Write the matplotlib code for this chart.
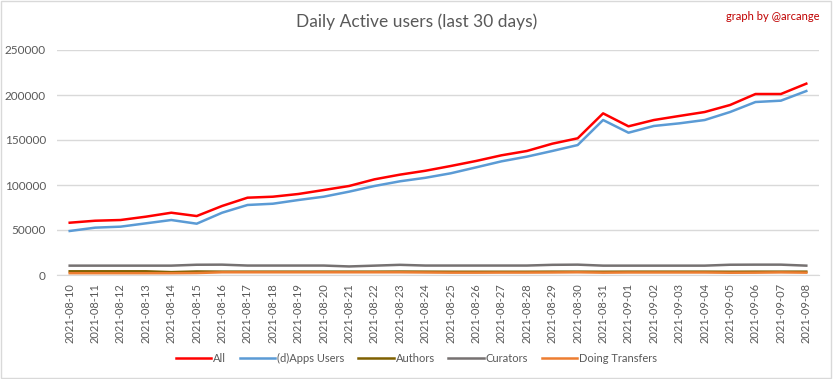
import matplotlib.pyplot as plt
import matplotlib.patches as patches

dates = ["2021-08-10", "2021-08-11", "2021-08-12", "2021-08-13", "2021-08-14", "2021-08-15",
         "2021-08-16", "2021-08-17", "2021-08-18", "2021-08-19", "2021-08-20", "2021-08-21",
         "2021-08-22", "2021-08-23", "2021-08-24", "2021-08-25", "2021-08-26", "2021-08-27",
         "2021-08-28", "2021-08-29", "2021-08-30", "2021-08-31", "2021-09-01", "2021-09-02",
         "2021-09-03", "2021-09-04", "2021-09-05", "2021-09-06", "2021-09-07", "2021-09-08"]

all_users = [58100, 60300, 61100, 64800, 69200, 65500, 76700, 85900, 87000, 90000,
             94400, 98900, 106300, 111500, 115800, 121100, 126700, 133000, 137800, 145900,
             151900, 179600, 165200, 172200, 176700, 181100, 188900, 201100, 201100, 212600]
dapps_users = [48900, 52600, 53700, 57400, 61100, 57000, 69200, 77800, 79200, 83300,
               87000, 92600, 98900, 104100, 108000, 113000, 119600, 126300, 131500, 137800,
               144400, 172200, 158100, 165600, 168500, 172200, 181100, 192200, 193700, 204400]
authors = [4100, 4100, 4100, 4100, 3200, 3900, 3700, 3700, 3700, 3700,
           3700, 3700, 3700, 3800, 3700, 3600, 3600, 3600, 3600, 3700,
           3700, 3600, 3700, 3700, 3700, 3700, 3600, 3700, 3700, 3700]
curators = [10400, 10400, 10400, 10400, 10400, 11400, 11500, 10500, 10500, 10500,
            10500, 9500, 10400, 11300, 10500, 10500, 10500, 10500, 10500, 11300,
            11500, 10400, 10400, 10400, 10400, 10400, 11400, 11500, 11500, 10400]
transfers = [2000, 2000, 2000, 2000, 2000, 2200, 3000, 3000, 3000, 3000,
             3000, 3000, 3000, 3000, 2800, 2600, 2600, 2700, 2700, 2800,
             3000, 2600, 2800, 2800, 2800, 2800, 2500, 2600, 2900, 2600]

series = [("All", all_users, "#ff0000"),
          ("(d)Apps Users", dapps_users, "#5b9bd5"),
          ("Authors", authors, "#7f6000"),
          ("Curators", curators, "#767171"),
          ("Doing Transfers", transfers, "#ed7d31")]

plt.rcParams['font.family'] = ['Lato', 'DejaVu Sans']
txt = "#595959"

fig = plt.figure(figsize=(8.33, 3.79), dpi=100)
ax = fig.add_axes([57 / 833, 1 - 275 / 379, (819 - 57) / 833, 225 / 379])

x = range(len(dates))
for name, vals, col in series:
    ax.plot(x, vals, color=col, lw=1.8, label=name)

ax.set_xlim(-0.5, len(dates) - 0.5)
ax.set_ylim(0, 250000)
ax.set_yticks(range(0, 250001, 50000))
ax.set_xticks(list(x))
ax.set_xticklabels(dates, rotation=90, fontsize=8, color=txt)
ax.tick_params(axis='y', labelsize=8.5, labelcolor=txt, length=0, pad=8)
ax.tick_params(axis='x', length=0, pad=6)
ax.grid(axis='y', color="#d9d9d9", lw=1)
ax.set_axisbelow(True)
for s in ["top", "right", "left"]:
    ax.spines[s].set_visible(False)
ax.spines["bottom"].set_color("#d9d9d9")

fig.text(0.5, 1 - 22 / 379, "Daily Active users (last 30 days)", ha="center", va="center",
         fontsize=12.5, color=txt)
fig.text(0.984, 1 - 16 / 379, "graph by @arcange", ha="right", va="center",
         fontsize=8, color="#c00000")

fig.legend(loc="center", bbox_to_anchor=(0.5, 1 - 358 / 379), ncol=5, frameon=False,
           fontsize=8, handlelength=3.2, columnspacing=1.2, handletextpad=0.2,
           labelcolor=txt)

fig.add_artist(patches.Rectangle((0.001, 0.002), 0.997, 0.995, transform=fig.transFigure,
                                 fill=False, edgecolor="#d9d9d9", lw=1))

fig.savefig("out.png", dpi=100)
